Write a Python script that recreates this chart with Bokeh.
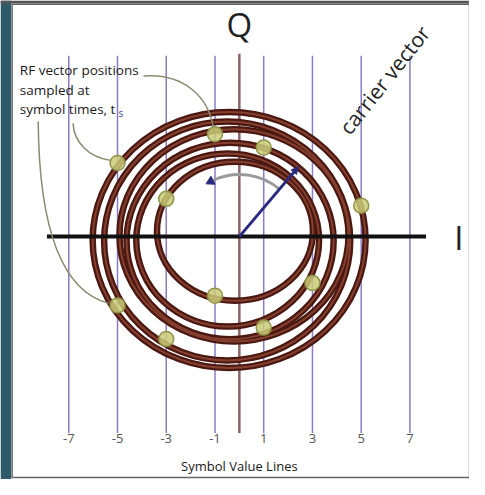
from bokeh.plotting import figure
from bokeh.models import Range1d, Arrow, NormalHead
from bokeh.core.properties import value
from bokeh.embed import file_html
from bokeh.resources import INLINE
import math

# ---- data ----
symbol_values = [-7, -5, -3, -1, 1, 3, 5, 7]
tick_labels = ["-7", "-5", "-3", "-1", "1", "3", "5", "7"]

sample_x = [-5, -1, 1, -3, 5, -5, -1, -3, 1, 3]
sample_y = [3.02, 4.2, 3.65, 1.55, 1.27, -2.82, -2.42, -4.2, -3.73, -1.9]

ring_cx = [-0.42, -0.50, -0.38, -0.48, -0.18, -0.22]
ring_cy = [-0.14, -0.18, -0.18, -0.14, 0.22, 0.05]
ring_w = [11.2, 10.1, 8.5, 7.5, 6.4, 9.4]
ring_h = [10.5, 9.8, 8.06, 7.1, 5.7, 8.7]

carrier_i = 2.42
carrier_q = 2.86

FONT = value("Open Sans")

# reference-pixel helpers (reference picture is 485 x 495; 25.2 px per unit)
def px(x):
    return (x - 247) / 25.2


def py(y):
    return (244 - y) / 25.2


p = figure(width=469, height=479,
           x_range=Range1d(px(0), px(485)), y_range=Range1d(py(495), py(0)),
           output_backend="svg", toolbar_location=None,
           x_axis_location=None, y_axis_location=None, min_border=0)
p.grid.visible = False
p.background_fill_color = "white"
p.border_fill_color = "white"
p.outline_line_color = None

# left photo strip and panel frame
p.quad(left=[px(0)], right=[px(11)], bottom=[py(495)], top=[py(0)],
       fill_color="#2f5a6a", line_color=None)
p.quad(left=[px(0)], right=[px(485)], bottom=[py(3)], top=[py(0)],
       fill_color="#555555", line_color=None)
p.quad(left=[px(12)], right=[px(485)], bottom=[py(493)], top=[py(4)],
       fill_color=None, line_color="#666666", line_width=1.5)

# symbol value lines
p.segment(x0=symbol_values, y0=[py(447)] * 8, x1=symbol_values, y1=[py(57)] * 8,
          line_color="#8a7cc4", line_width=1.5)
p.text(x=symbol_values, y=[py(453)] * 8, text=tick_labels, text_font=FONT,
       text_font_size="13px", text_color="#555555", text_align="center",
       text_baseline="middle")
p.text(x=[0], y=[py(481)], text=["Symbol Value Lines"], text_font=FONT,
       text_font_size="13px", text_color="#1a1a1a", text_align="center",
       text_baseline="middle")

# Q axis
p.segment(x0=[0], y0=[py(447)], x1=[0], y1=[py(55)], line_color="#8a6666", line_width=2.5)

# rings (trajectory)
p.ellipse(x=ring_cx, y=ring_cy, width=ring_w, height=ring_h, fill_color=None,
          line_color="#4a1810", line_width=6.5)
p.ellipse(x=ring_cx, y=ring_cy, width=ring_w, height=ring_h, fill_color=None,
          line_color="#854030", line_width=2)

# I axis
p.segment(x0=[px(48)], y0=[0], x1=[px(440)], y1=[0], line_color="#111111", line_width=4)

# rotation arc with arrowhead
p.arc(x=[0], y=[0], radius=2.55, start_angle=0.85, end_angle=2.0,
      line_color="#9a9a9a", line_width=3)
p.scatter(x=[2.55 * math.cos(2.05)], y=[2.55 * math.sin(2.05)], marker="triangle",
          size=9, angle=2.05, fill_color="#2a2a80", line_color="#2a2a80")

# carrier vector
p.add_layout(Arrow(end=NormalHead(size=7, fill_color="#2a2a80", line_color="#2a2a80"),
                   x_start=0, y_start=0, x_end=carrier_i, y_end=carrier_q,
                   line_color="#2a2a80", line_width=3))

# sample points
p.scatter(x=sample_x, y=sample_y, size=15, fill_color="#c9cb78", fill_alpha=0.85,
          line_color="#8f9448", line_width=1.5)

# leader curves
p.bezier(x0=[px(148), px(75), px(39)], y0=[py(78), py(127), py(125)],
         x1=[px(220), px(113), px(112)], y1=[py(131), py(165), py(313)],
         cx0=[px(190), px(76), px(40)], cy0=[py(75), py(147), py(250)],
         cx1=[px(215), px(92), px(70)], cy1=[py(100), py(162), py(302)],
         line_color="#8a8a70", line_width=1.5)

# annotation text
p.text(x=[px(20), px(20), px(20)], y=[py(72), py(93), py(112)],
       text=["RF vector positions", "sampled at", "symbol times, t"], text_font=FONT,
       text_font_size="13.5px", text_color="#1a1a1a", text_align="left",
       text_baseline="middle")
p.text(x=[px(122)], y=[py(116)], text=["s"], text_font=FONT,
       text_font_size="10px", text_color="#3a4a8a", text_align="left",
       text_baseline="middle")

# axis letters
p.text(x=[0], y=[py(25)], text=["Q"], text_font=FONT, text_font_size="33px",
       text_color="#222222", text_align="center", text_baseline="middle")
p.text(x=[px(474)], y=[py(245)], text=["I"], text_font=FONT, text_font_size="33px",
       text_color="#222222", text_align="center", text_baseline="middle")
p.text(x=[px(397)], y=[py(82)], text=["carrier vector"], text_font=FONT,
       text_font_size="21px", text_color="#222222", text_align="center",
       text_baseline="middle", angle=0.9)

open("out.html", "w").write(file_html(p, INLINE))
